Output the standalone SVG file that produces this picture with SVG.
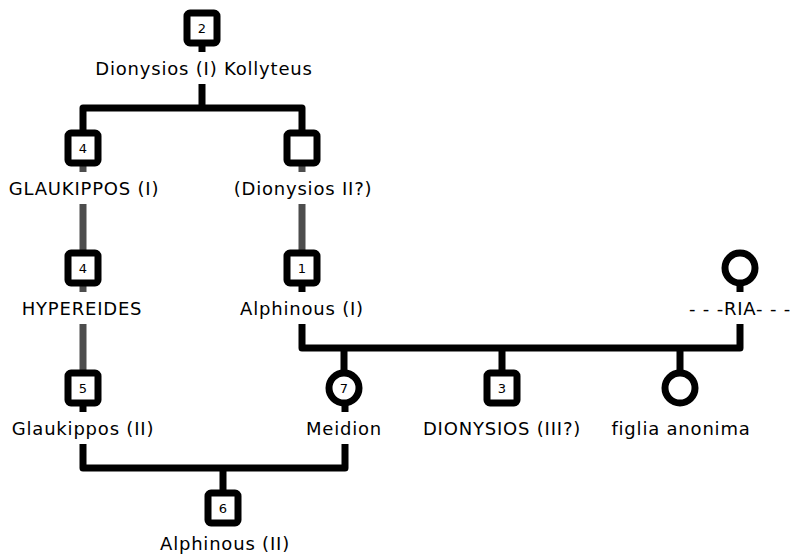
<svg xmlns="http://www.w3.org/2000/svg" width="792" height="556" viewBox="0 0 792 556">
  <style>
    .line { stroke: #000; stroke-width: 7; fill: none; stroke-linecap: butt; stroke-linejoin: round; }
    .thin { stroke: #4d4d4d; stroke-width: 7; fill: none; }
    .male { fill: #fff; stroke: #000; stroke-width: 7; }
    .female { fill: #fff; stroke: #000; stroke-width: 7; filter: url(#soft); }
    .num { font-family: "DejaVu Sans", sans-serif; font-size: 13px; text-anchor: middle; fill: #000; }
    .name { font-family: "DejaVu Sans", sans-serif; font-size: 18px; letter-spacing: 0.8px; text-anchor: middle; fill: #000; }
    .bg { fill: #fff; }
  </style>
  <defs>
    <filter id="soft" x="-20%" y="-20%" width="140%" height="140%">
      <feGaussianBlur stdDeviation="0.6"/>
    </filter>
  </defs>
  <rect width="792" height="556" fill="#fff"/>

  <!-- connectors -->
  <g id="connectors">
    <!-- Dionysios (I) to his sons -->
    <path class="line" d="M202 28 V108 M83 148 V108 H302 V148"/>
    <!-- descent lines -->
    <path class="thin" d="M83 148 V268 M83 268 V388 M302 148 V268"/>
    <!-- Alphinous (I) and -RIA- with their children -->
    <path class="line" d="M302 268 V348 H740 V268 M344 348 V388 M502 348 V388 M680 348 V388"/>
    <!-- Glaukippos (II) and Meidion with their son -->
    <path class="line" d="M83 388 V468 H345 V388 M223 468 V508"/>
  </g>

  <!-- Dionysios (I) Kollyteus -->
  <g id="n-dionysios1">
    <rect class="male" x="187" y="13" width="30" height="30" rx="3"/>
    <text class="num" x="202" y="33">2</text>
    <rect class="bg" x="94" y="52" width="220" height="32"/>
    <text class="name" x="204" y="75">Dionysios (I) Kollyteus</text>
  </g>

  <g id="n-glaukippos1">
    <rect class="male" x="68" y="133" width="30" height="30" rx="3"/>
    <text class="num" x="83" y="153">4</text>
    <rect class="bg" x="6" y="172" width="156" height="32"/>
    <text class="name" x="84" y="195">GLAUKIPPOS (I)</text>
  </g>

  <g id="n-dionysios2">
    <rect class="male" x="287" y="133" width="30" height="30" rx="3"/>
    <rect class="bg" x="238" y="172" width="130" height="32"/>
    <text class="name" x="303" y="195">(Dionysios II?)</text>
  </g>

  <g id="n-hypereides">
    <rect class="male" x="68" y="253" width="30" height="30" rx="3"/>
    <text class="num" x="83" y="273">4</text>
    <rect class="bg" x="20" y="292" width="124" height="32"/>
    <text class="name" x="82" y="315">HYPEREIDES</text>
  </g>

  <g id="n-alphinous1">
    <rect class="male" x="287" y="253" width="30" height="30" rx="3"/>
    <text class="num" x="302" y="273">1</text>
    <rect class="bg" x="238" y="292" width="128" height="32"/>
    <text class="name" x="302" y="315">Alphinous (I)</text>
  </g>

  <g id="n-ria">
    <circle class="female" cx="740" cy="268" r="15"/>
    <rect class="bg" x="686" y="292" width="106" height="32"/>
    <text class="name" x="740" y="315">- - -RIA- - -</text>
  </g>

  <g id="n-glaukippos2">
    <rect class="male" x="68" y="373" width="30" height="30" rx="3"/>
    <text class="num" x="83" y="393">5</text>
    <rect class="bg" x="10" y="412" width="146" height="32"/>
    <text class="name" x="83" y="435">Glaukippos (II)</text>
  </g>

  <g id="n-meidion">
    <circle class="female" cx="344" cy="388" r="15"/>
    <text class="num" x="344" y="393">7</text>
    <rect class="bg" x="302" y="412" width="84" height="32"/>
    <text class="name" x="344" y="435">Meidion</text>
  </g>

  <g id="n-dionysios3">
    <rect class="male" x="487" y="373" width="30" height="30" rx="3"/>
    <text class="num" x="502" y="393">3</text>
    <text class="name" x="502" y="435">DIONYSIOS (III?)</text>
  </g>

  <g id="n-figlia">
    <circle class="female" cx="680" cy="388" r="15"/>
    <text class="name" x="681" y="435">figlia anonima</text>
  </g>

  <g id="n-alphinous2">
    <rect class="male" x="208" y="493" width="30" height="30" rx="3"/>
    <text class="num" x="223" y="513">6</text>
    <text class="name" x="225" y="550">Alphinous (II)</text>
  </g>
</svg>
